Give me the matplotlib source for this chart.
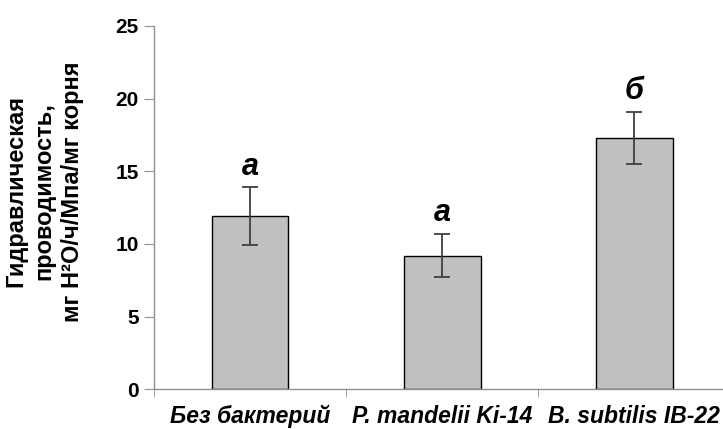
import matplotlib.pyplot as plt
import numpy as np

categories = ['Без бактерий', 'P. mandelii Ki-14', 'B. subtilis IB-22']
values = [11.9, 9.2, 17.3]
errors = [2.0, 1.5, 1.8]
letters = ['а', 'а', 'б']

plt.rcParams['font.family'] = ['Liberation Sans', 'DejaVu Sans']

fig = plt.figure(figsize=(7.23, 4.29), dpi=100)
ax = fig.add_axes([0.213, 0.0925, 0.797, 0.847])

x = np.arange(len(categories))
ax.bar(x, values, width=0.4, color='#c0c0c0', edgecolor='black', linewidth=1.0, zorder=2)
ax.errorbar(x, values, yerr=errors, fmt='none', ecolor='#404040', elinewidth=1.3,
            capsize=5.5, capthick=1.3, zorder=3)

for xi, v, e, t in zip(x, values, errors, letters):
    ax.text(xi, v + e + 0.85, t, ha='center', va='baseline', fontsize=22,
            fontweight='bold', fontstyle='italic')

ax.set_xlim(-0.5, 2.5)
ax.set_ylim(0, 25)
ax.set_yticks([0, 5, 10, 15, 20, 25])
ax.set_xticks(x)
ax.set_xticklabels(categories, fontsize=16.5, fontweight='bold', fontstyle='italic')
ax.set_xticks([-0.5, 0.5, 1.5], minor=True)
ax.tick_params(axis='x', which='major', length=0, pad=11)
ax.tick_params(axis='x', which='minor', length=6, color='#909090')
ax.tick_params(axis='y', length=7, color='#909090', labelsize=15, pad=4)
for lab in ax.get_yticklabels():
    lab.set_fontweight('bold')

for s in ['top', 'right']:
    ax.spines[s].set_visible(False)
for s in ['left', 'bottom']:
    ax.spines[s].set_color('#909090')
    ax.spines[s].set_linewidth(1.0)

ax.set_ylabel('Гидравлическая\nпроводимость,\nмг H²O/ч/Мпа/мг корня', fontsize=17,
              fontweight='bold', linespacing=1.3)
ax.yaxis.set_label_coords(-0.122, 0.545)

fig.savefig('out.png', dpi=100)
